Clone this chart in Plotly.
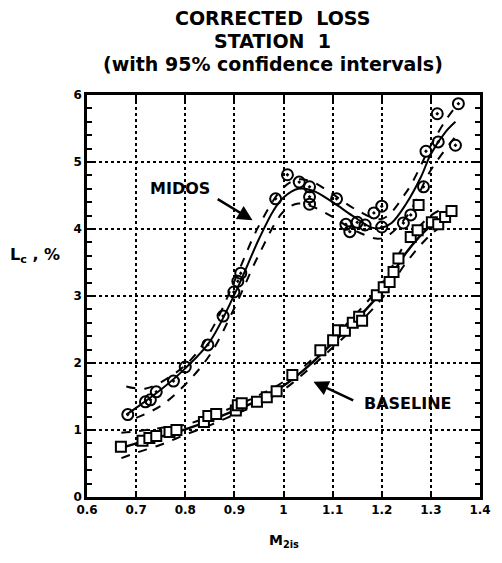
import plotly.graph_objects as go

# MIDOS measured points
midos_x = [0.683, 0.719, 0.729, 0.741, 0.776, 0.800, 0.846, 0.877, 0.899, 0.907, 0.913,
           0.984, 1.008, 1.032, 1.053, 1.053, 1.053, 1.108, 1.127, 1.135, 1.150, 1.166,
           1.184, 1.200, 1.200, 1.244, 1.259, 1.285, 1.290, 1.313, 1.315, 1.350, 1.356]
midos_y = [1.23, 1.42, 1.45, 1.57, 1.73, 1.94, 2.27, 2.70, 3.06, 3.22, 3.34,
           4.45, 4.81, 4.70, 4.63, 4.48, 4.37, 4.45, 4.07, 3.96, 4.10, 4.06,
           4.24, 4.34, 4.03, 4.09, 4.21, 4.63, 5.16, 5.72, 5.30, 5.25, 5.87]

# Baseline measured points
base_x = [0.669, 0.713, 0.727, 0.741, 0.768, 0.782, 0.838, 0.847, 0.863, 0.903, 0.907,
          0.915, 0.946, 0.966, 0.986, 1.018, 1.075, 1.101, 1.111, 1.125, 1.141, 1.154,
          1.160, 1.190, 1.204, 1.216, 1.224, 1.234, 1.259, 1.273, 1.275, 1.302, 1.315,
          1.329, 1.342]
base_y = [0.75, 0.84, 0.88, 0.91, 0.97, 1.00, 1.12, 1.21, 1.24, 1.29, 1.37,
          1.40, 1.42, 1.49, 1.58, 1.82, 2.19, 2.34, 2.49, 2.48, 2.60, 2.69,
          2.63, 3.01, 3.13, 3.21, 3.36, 3.56, 3.88, 3.98, 4.36, 4.10, 4.07,
          4.18, 4.27]

# MIDOS fit and 95% confidence band
mfit_x = [0.68, 0.70, 0.75, 0.80, 0.85, 0.90, 0.95, 0.98, 1.00, 1.03, 1.06, 1.10,
          1.14, 1.18, 1.20, 1.22, 1.25, 1.28, 1.30, 1.33, 1.35]
mfit_y = [1.23, 1.33, 1.60, 1.92, 2.32, 3.02, 3.85, 4.28, 4.47, 4.60, 4.57, 4.40,
          4.20, 4.02, 4.02, 4.09, 4.38, 4.78, 5.12, 5.45, 5.60]
mup_x = [0.68, 0.72, 0.78, 0.82, 0.86, 0.90, 0.95, 1.00, 1.03, 1.06, 1.10, 1.15,
         1.20, 1.25, 1.30, 1.33, 1.35]
mup_y = [1.65, 1.62, 1.85, 2.12, 2.58, 3.22, 4.05, 4.62, 4.74, 4.70, 4.52, 4.28,
         4.15, 4.55, 5.25, 5.62, 5.82]
mlo_x = [0.70, 0.75, 0.80, 0.85, 0.90, 0.95, 1.00, 1.03, 1.06, 1.10, 1.15, 1.20,
         1.25, 1.30, 1.35]
mlo_y = [1.18, 1.36, 1.68, 2.12, 2.82, 3.62, 4.26, 4.38, 4.33, 4.18, 3.96, 3.86,
         4.18, 4.88, 5.38]

# Baseline fit and 95% confidence band
bfit_x = [0.67, 0.70, 0.75, 0.80, 0.85, 0.90, 0.95, 1.00, 1.05, 1.10, 1.15, 1.20,
          1.25, 1.30, 1.33]
bfit_y = [0.73, 0.80, 0.90, 1.01, 1.14, 1.29, 1.45, 1.66, 1.95, 2.30, 2.66, 3.07,
          3.65, 4.05, 4.20]
bup_x = [0.67, 0.70, 0.75, 0.80, 0.85, 0.90, 0.95, 1.00, 1.05, 1.10, 1.15, 1.20,
         1.25, 1.30, 1.33]
bup_y = [0.96, 0.98, 1.03, 1.08, 1.20, 1.35, 1.52, 1.72, 2.00, 2.37, 2.75, 3.18,
         3.80, 4.20, 4.32]
blo_x = [0.67, 0.70, 0.75, 0.80, 0.85, 0.90, 0.95, 1.00, 1.05, 1.10, 1.15, 1.20,
         1.25, 1.30, 1.33]
blo_y = [0.58, 0.66, 0.78, 0.93, 1.07, 1.23, 1.39, 1.60, 1.90, 2.23, 2.57, 2.96,
         3.50, 3.92, 4.08]

x_ticks = [0.6, 0.7, 0.8, 0.9, 1.0, 1.1, 1.2, 1.3, 1.4]
x_labels = ["0.6", "0.7", "0.8", "0.9", "1", "1.1", "1.2", "1.3", "1.4"]
y_ticks = [0, 1, 2, 3, 4, 5, 6]

title_lines = ["CORRECTED  LOSS", "STATION  1", "(with 95% confidence intervals)"]

FONT = "DejaVu Sans"
fig = go.Figure()

def line(x, y, dash, w=2):
    fig.add_trace(go.Scatter(x=x, y=y, mode="lines",
                             line=dict(color="black", width=w, dash=dash, shape="spline"),
                             hoverinfo="skip", showlegend=False))

line(mup_x, mup_y, "dash")
line(mlo_x, mlo_y, "dash")
line(mfit_x, mfit_y, "solid")
line(bup_x, bup_y, "dash")
line(blo_x, blo_y, "dash")
line(bfit_x, bfit_y, "solid", 2.5)

fig.add_trace(go.Scatter(x=midos_x, y=midos_y, mode="markers", showlegend=False,
                         marker=dict(symbol="circle-open-dot", size=11, color="black",
                                     line=dict(color="black", width=2))))
fig.add_trace(go.Scatter(x=base_x, y=base_y, mode="markers", showlegend=False,
                         marker=dict(symbol="square", size=10, color="white",
                                     line=dict(color="black", width=2))))

axis_common = dict(showline=True, linecolor="black", linewidth=2.5, mirror="allticks",
                   ticks="inside", ticklen=6, tickwidth=2, tickcolor="black",
                   showgrid=True, gridcolor="black", gridwidth=1.5, griddash="dot",
                   zeroline=False,
                   tickfont=dict(family=FONT, size=12, color="black", weight="bold"))

fig.update_xaxes(range=[0.6, 1.4], tickvals=x_ticks, ticktext=x_labels, **axis_common)
fig.update_yaxes(range=[0, 6], tickvals=y_ticks,
                 minor=dict(dtick=0.2, ticks="inside", ticklen=5, tickwidth=1.5,
                            tickcolor="black", showgrid=False),
                 **axis_common)

annots = []
for txt, shift in zip(title_lines, [77, 54, 31]):
    annots.append(dict(text="<b>" + txt + "</b>", xref="paper", yref="paper",
                       x=0.473, y=1.0, yshift=shift, xanchor="center", yanchor="middle",
                       showarrow=False, font=dict(size=19, family=FONT)))
annots += [
    dict(text="<b>L<sub>c</sub> , %</b>", xref="paper", yref="paper", x=-0.2,
         y=0.6, xanchor="left", yanchor="middle", showarrow=False,
         font=dict(size=16, family=FONT)),
    dict(text="<b>M<sub>2is</sub></b>", xref="paper", yref="paper", x=0.5,
         y=0, yshift=-44, xanchor="center", yanchor="middle", showarrow=False,
         font=dict(size=14, family=FONT)),
    dict(text="<b>MIDOS</b>", x=0.79, y=4.6, xref="x", yref="y", showarrow=False,
         font=dict(size=16, family=FONT)),
    dict(x=0.937, y=4.13, ax=0.863, ay=4.46, xref="x", yref="y", axref="x",
         ayref="y", text="", showarrow=True, arrowhead=2, arrowsize=1.2,
         arrowwidth=2.5, arrowcolor="black"),
    dict(text="<b>BASELINE</b>", x=1.253, y=1.39, xref="x", yref="y",
         showarrow=False, font=dict(size=16, family=FONT)),
    dict(x=1.061, y=1.72, ax=1.145, ay=1.43, xref="x", yref="y", axref="x",
         ayref="y", text="", showarrow=True, arrowhead=2, arrowsize=1.2,
         arrowwidth=2.5, arrowcolor="black"),
]

fig.update_layout(
    width=502, height=563, plot_bgcolor="white", paper_bgcolor="white",
    margin=dict(l=87, r=11, t=95, b=66),
    font=dict(family=FONT, color="black"),
    annotations=annots,
)

fig.write_html("out.html")
